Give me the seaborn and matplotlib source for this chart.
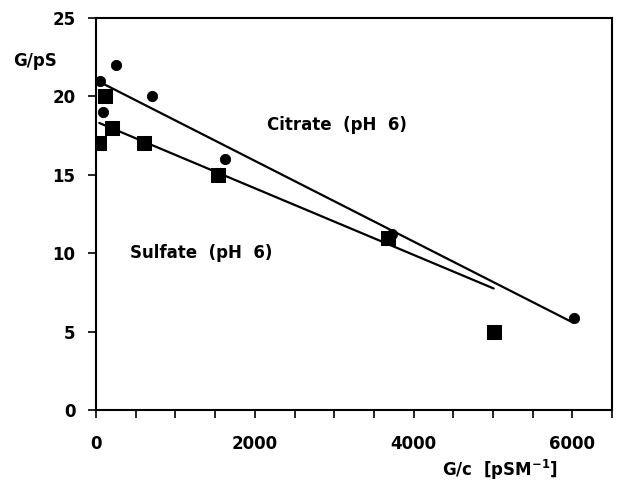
import matplotlib
matplotlib.use("Agg")
import matplotlib.pyplot as plt
import seaborn as sns
import pandas as pd
from matplotlib.ticker import MultipleLocator

# Citrate (circles)
citrate_x = [50, 90, 250, 705, 1620, 3730, 6020]
citrate_y = [21.0, 19.0, 22.0, 20.0, 16.0, 11.2, 5.9]
# Sulfate (squares)
sulfate_x = [40, 110, 200, 600, 1530, 3680, 5010]
sulfate_y = [17.0, 20.0, 18.0, 17.0, 15.0, 11.0, 5.0]
# Regression lines (endpoints)
citrate_fit_x = [70, 6000]
citrate_fit_y = [20.85, 5.6]
sulfate_fit_x = [40, 5010]
sulfate_fit_y = [18.3, 7.75]

xticks = [0, 2000, 4000, 6000]
yticks = [0, 5, 10, 15, 20, 25]

sns.set_theme(style="ticks")
plt.rcParams['font.family'] = ['DejaVu Sans']
plt.rcParams['text.color'] = 'black'
plt.rcParams['axes.labelcolor'] = 'black'
plt.rcParams['xtick.color'] = 'black'
plt.rcParams['ytick.color'] = 'black'

fig = plt.figure(figsize=(6.2, 4.83), dpi=100)
ax = fig.add_axes([0.155, 0.151, 0.832, 0.812])

dc = pd.DataFrame({"x": citrate_x, "y": citrate_y})
ds = pd.DataFrame({"x": sulfate_x, "y": sulfate_y})
lc = pd.DataFrame({"x": citrate_fit_x, "y": citrate_fit_y})
ls = pd.DataFrame({"x": sulfate_fit_x, "y": sulfate_fit_y})

sns.lineplot(data=lc, x="x", y="y", ax=ax, color="black", lw=1.6)
sns.lineplot(data=ls, x="x", y="y", ax=ax, color="black", lw=1.6)
sns.scatterplot(data=dc, x="x", y="y", ax=ax, marker="o", s=55, color="black",
                edgecolor="black", zorder=5)
sns.scatterplot(data=ds, x="x", y="y", ax=ax, marker="s", s=88, color="black",
                edgecolor="black", zorder=6)

ax.set_xlim(0, 6500)
ax.set_ylim(0, 25)
ax.set_xticks(xticks)
ax.set_yticks(yticks)
ax.xaxis.set_minor_locator(MultipleLocator(500))
ax.tick_params(axis="both", which="major", direction="out", length=6, width=1.2,
               labelsize=12, colors="black")
ax.tick_params(axis="x", which="major", pad=12)
ax.tick_params(axis="y", which="major", pad=9)
ax.tick_params(axis="x", which="minor", direction="out", length=6, width=1.2)
for lab in ax.get_xticklabels() + ax.get_yticklabels():
    lab.set_fontweight("bold")
for sp in ax.spines.values():
    sp.set_visible(True)
    sp.set_color("black")
    sp.set_linewidth(1.5)

ax.set_xlabel("")
ax.set_ylabel("")
fig.text(0.021, 0.874, "G/pS", fontsize=12, fontweight="bold", ha="left", va="center")
fig.text(0.806, 0.028, "G/c  [pSM$^{\\mathbf{-1}}$]", fontsize=12, fontweight="bold",
         ha="center", va="center")
ax.text(2150, 18.2, "Citrate  (pH  6)", fontsize=12, fontweight="bold", va="center")
ax.text(430, 10.0, "Sulfate  (pH  6)", fontsize=12, fontweight="bold", va="center")

fig.savefig("out.png", dpi=100, facecolor="white")
